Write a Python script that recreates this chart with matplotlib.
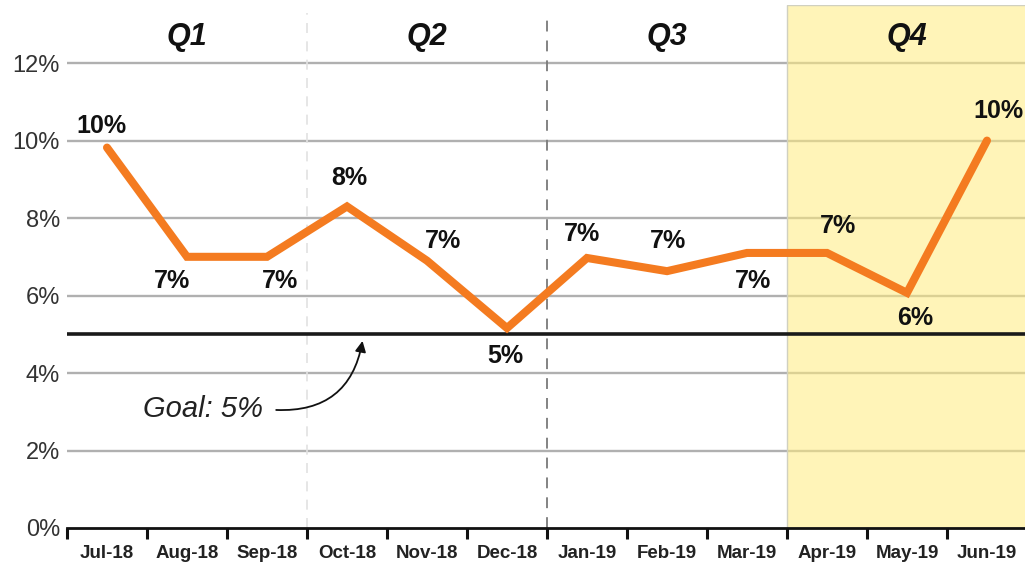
import matplotlib
matplotlib.use("Agg")
import matplotlib.pyplot as plt
from matplotlib.ticker import FixedLocator, FuncFormatter

months = ["Jul-18", "Aug-18", "Sep-18", "Oct-18", "Nov-18", "Dec-18",
          "Jan-19", "Feb-19", "Mar-19", "Apr-19", "May-19", "Jun-19"]
rate = [9.82, 7.0, 7.0, 8.3, 6.9, 5.16, 6.97, 6.63, 7.1, 7.1, 6.07, 10.0]
quarters = ["Q1", "Q2", "Q3", "Q4"]
goal = 5.0
y_ticks = [0, 2, 4, 6, 8, 10, 12]

# label offsets in pixels (dx, dy) relative to each point
label_offsets = [(-6, 22), (-15, -24), (13, -24), (2, 28), (16, 20), (-2, -28),
                 (-5, 24), (1, 30), (6, -28), (11, 27), (8, -25), (11, 30)]

narrow = ["Liberation Sans Narrow", "Liberation Sans", "DejaVu Sans"]
sans = ["Liberation Sans", "DejaVu Sans"]

fig = plt.figure(figsize=(10.25, 5.65), dpi=100)
ax = fig.add_axes([67 / 1025, 1 - 528 / 565, 1 - 67 / 1025, (528 - 5) / 565])

n = len(months)
x = list(range(n))
ax.set_xlim(-0.5, n - 0.5 - 2 / 80)
ax.set_ylim(0, 13.5)

# Q4 highlight (semi-transparent so gridlines show through faintly)
ax.axvspan(8.5, n - 0.5, ymin=0, ymax=1, facecolor="#FFEC7E", edgecolor="none",
           alpha=0.55, zorder=2)
ax.axvspan(8.5, n - 0.5, ymin=0, ymax=1, facecolor="none", edgecolor="#D0D0C0",
           linewidth=1.0, zorder=2)

# gridlines
for t in y_ticks[1:]:
    ax.axhline(t, color="#B0B0B0", linewidth=1.7, zorder=1)

# quarter separators
ax.plot([2.5, 2.5], [0, 13.3], color="#E2E2E2", linewidth=1.2, linestyle=(0, (6, 5)), zorder=1)
ax.plot([5.5, 5.5], [0, 13.3], color="#7A7A7A", linewidth=1.3, linestyle=(0, (6, 5)), zorder=3)

# goal line
ax.axhline(goal, color="#1A1A1A", linewidth=2.6, zorder=4)

# main line
ax.plot(x, rate, color="#F47B20", linewidth=5.8, solid_capstyle="round",
        solid_joinstyle="miter", zorder=5)

# data labels
for xi, v, (dx, dy) in zip(x, rate, label_offsets):
    ax.annotate(f"{round(v):.0f}%", (xi, v), xytext=(dx * 0.72, dy * 0.72),
                textcoords="offset points", ha="center", va="center",
                fontsize=18, fontweight="bold", family=narrow, color="#111111", zorder=6)

# quarter labels
for i, q in enumerate(quarters):
    ax.text(i * 3 + 1, 12.68, q, ha="center", va="center", fontsize=22,
            fontweight="bold", fontstyle="italic", family=sans, color="#111111", zorder=6)

# goal annotation
ax.text(1.2, 3.08, "Goal: 5%", ha="center", va="center", fontsize=21,
        fontstyle="italic", family=sans, color="#222222", zorder=6)
ax.annotate("", xy=(3.2, 4.9), xytext=(2.08, 3.05),
            arrowprops=dict(arrowstyle="-|>", color="#111111", lw=1.3,
                            mutation_scale=16,
                            connectionstyle="arc3,rad=0.45"), zorder=6)

# axes styling
for s in ["left", "right", "top"]:
    ax.spines[s].set_visible(False)
ax.spines["bottom"].set_linewidth(2.0)
ax.spines["bottom"].set_color("#111111")
ax.spines["bottom"].set_zorder(6)

ax.set_yticks(y_ticks)
ax.yaxis.set_major_formatter(FuncFormatter(lambda v, p: f"{v:.0f}%"))
ax.tick_params(axis="y", length=0, pad=5, labelsize=17, labelcolor="#333333")
for lab in ax.get_yticklabels():
    lab.set_family(sans)

ax.xaxis.set_major_locator(FixedLocator([i - 0.5 for i in range(n + 1)]))
ax.xaxis.set_major_formatter(FuncFormatter(lambda v, p: ""))
ax.xaxis.set_minor_locator(FixedLocator(x))
ax.set_xticks(x, months, minor=True)
ax.tick_params(axis="x", which="major", length=8, width=2.2, color="#111111", direction="out")
ax.tick_params(axis="x", which="minor", length=0, pad=12, labelsize=13.5)
for lab in ax.get_xticklabels(minor=True):
    lab.set_family(narrow)
    lab.set_fontweight("bold")
    lab.set_color("#222222")

fig.savefig("out.png", dpi=100, facecolor="white")
